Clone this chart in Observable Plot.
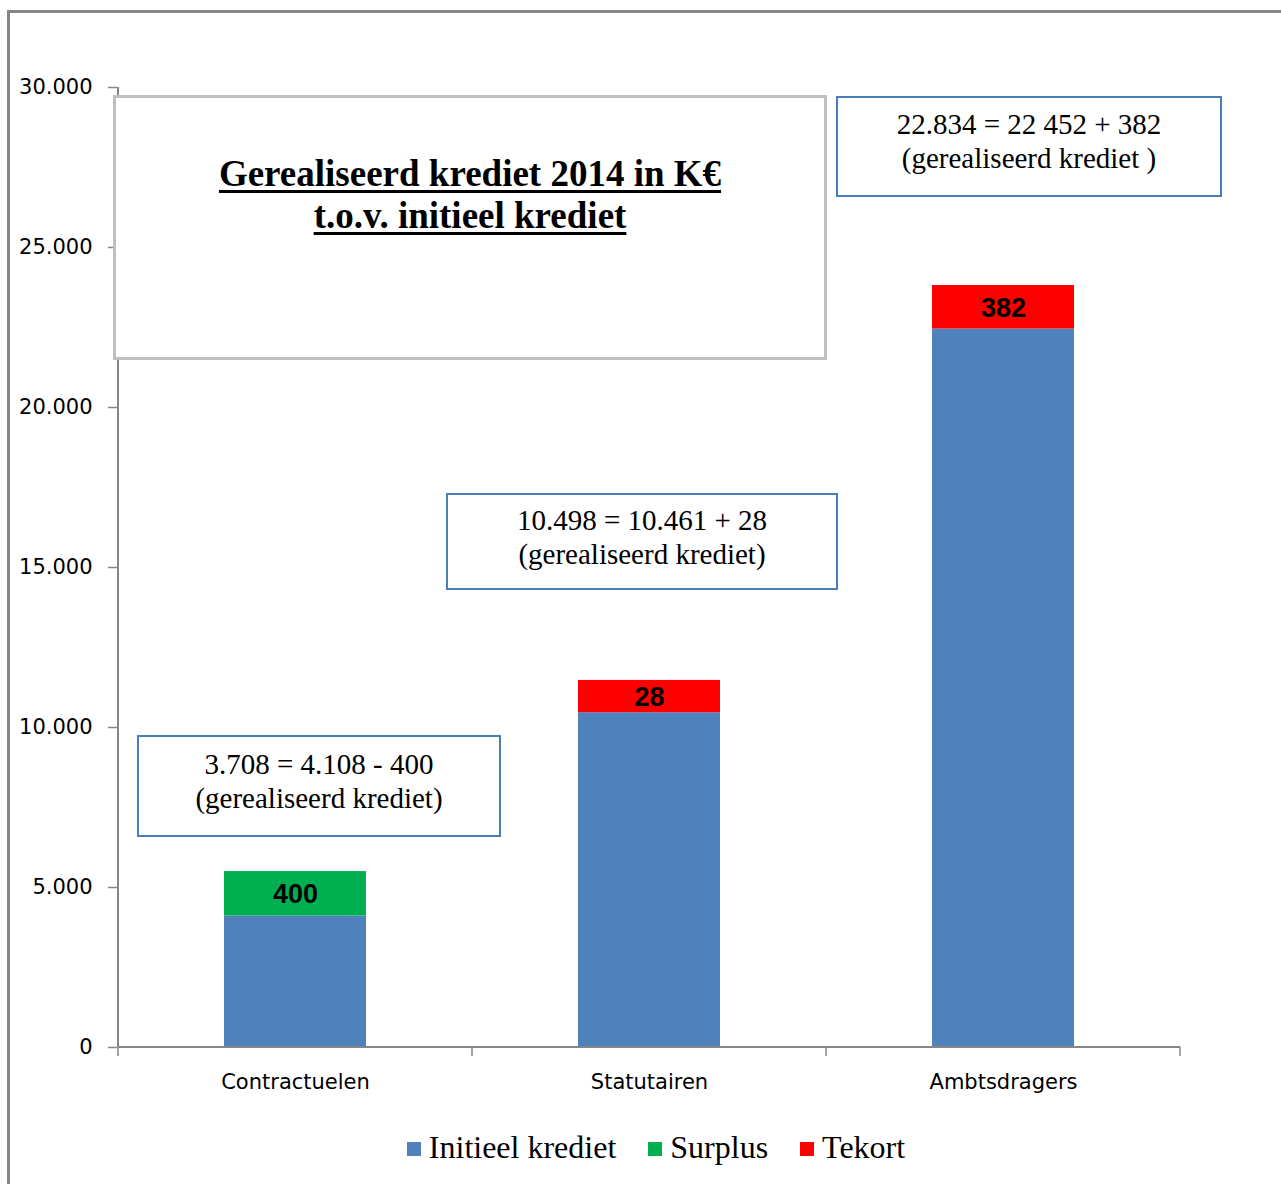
<!DOCTYPE html>
<html>
<head>
<meta charset="utf-8">
<script src="https://cdn.jsdelivr.net/npm/d3@7"></script>
<script src="https://cdn.jsdelivr.net/npm/@observablehq/plot@0.6"></script>
<style>
  html, body { margin: 0; padding: 0; background: #fff; }
  #wrap { position: relative; width: 1281px; height: 1184px; overflow: hidden; background: #fff; }
  #frame { position: absolute; left: 7px; top: 10px; right: -10px; bottom: -10px; border-left: 3px solid #868686; border-top: 3px solid #868686; }
  #chart { position: absolute; left: 0; top: 0; }
  .box { position: absolute; box-sizing: border-box; background: #fff; text-align: center; font-family: "Liberation Serif", "Times New Roman", serif; color: #000; }
  .note { border: 2px solid #4a7ebb; font-size: 29px; line-height: 34px; }
  #titlebox { border: 3px solid #bfbfbf; font-size: 37px; line-height: 42px; font-weight: bold; }
  #titlebox span { text-decoration: underline; text-decoration-thickness: 3px; text-underline-offset: 4px; }
  #legend { position: absolute; top: 1129px; left: 0; width: 1312px; text-align: center; font-family: "Liberation Serif", "Times New Roman", serif; font-size: 32px; color: #000; white-space: nowrap; }
  #legend .item { display: inline-block; margin: 0 16px; }
  #legend .sw { display: inline-block; width: 14px; height: 14px; margin-right: 8px; vertical-align: 2px; }
</style>
</head>
<body>
<div id="wrap">
  <div id="frame"></div>
  <div id="chart"></div>
  <div id="titlebox" class="box"></div>
  <div id="note1" class="box note"></div>
  <div id="note2" class="box note"></div>
  <div id="note3" class="box note"></div>
  <div id="legend"></div>
</div>
<script>
// ---- data ----
const categories = ["Contractuelen", "Statutairen", "Ambtsdragers"];
const initieelKrediet = [4108, 10461, 22452];
const surplus = [1390, 0, 0];          // segment height as drawn
const tekort = [0, 1010, 1360];        // segment height as drawn
const segmentLabels = ["400", "28", "382"];
const seriesNames = ["Initieel krediet", "Surplus", "Tekort"];
const seriesColors = ["#4f81bd", "#00b050", "#ff0000"];
const yTicks = [0, 5000, 10000, 15000, 20000, 25000, 30000];
const titleLines = ["Gerealiseerd krediet 2014 in K€", "t.o.v. initieel krediet"];
const noteTexts = [
  ["3.708 = 4.108 - 400", "(gerealiseerd krediet)"],
  ["10.498 = 10.461 + 28", "(gerealiseerd krediet)"],
  ["22.834 = 22 452 + 382", "(gerealiseerd krediet )"]
];

const AXIS = "#868686";

const rows = [];
categories.forEach((c, i) => {
  rows.push({cat: c, series: seriesNames[0], value: initieelKrediet[i], label: ""});
  rows.push({cat: c, series: seriesNames[1], value: surplus[i], label: surplus[i] ? segmentLabels[i] : ""});
  rows.push({cat: c, series: seriesNames[2], value: tekort[i], label: tekort[i] ? segmentLabels[i] : ""});
});

const nl = d3.formatLocale({decimal: ",", thousands: ".", grouping: [3], currency: ["", " €"]});
const fmt = nl.format(",");

function axisLines(index, scales, values, dims) {
  const x = scales.x, y = scales.y;
  const bw = typeof x.bandwidth === "function" ? x.bandwidth() : (x.bandwidth || 0);
  const centers = categories.map(c => x(c) + bw / 2);
  const step = centers[1] - centers[0];
  const y0 = y(0), yTop = y(30000);
  const left = centers[0] - step / 2, right = centers[centers.length - 1] + step / 2;
  const g = d3.create("svg:g").attr("stroke", AXIS).attr("stroke-width", 2).attr("fill", "none");
  g.append("line").attr("x1", left).attr("x2", left).attr("y1", yTop).attr("y2", y0);
  g.append("line").attr("x1", left).attr("x2", right).attr("y1", y0).attr("y2", y0);
  for (let k = 0; k <= categories.length; k++) {
    const bx = left + k * step;
    g.append("line").attr("x1", bx).attr("x2", bx).attr("y1", y0).attr("y2", y0 + 9).attr("stroke-width", 1.5);
  }
  return g.node();
}

const plot = Plot.plot({
  width: 1281,
  height: 1110,
  marginLeft: 117,
  marginRight: 100,
  marginTop: 87,
  marginBottom: 63,
  style: {fontFamily: "DejaVu Sans, sans-serif", background: "transparent", color: "#000"},
  x: {domain: categories, paddingInner: 0.6, paddingOuter: 0.3, label: null},
  y: {domain: [0, 30000], label: null},
  color: {domain: seriesNames, range: seriesColors},
  marks: [
    Plot.barY(rows, {x: "cat", y: "value", fill: "series"}),
    Plot.text(rows, Plot.stackY({x: "cat", y: "value", z: "series", text: "label",
      fontFamily: "Liberation Sans, Arial, sans-serif", fontWeight: "bold", fontSize: 27, fill: "#000", dy: 1})),
    Plot.axisY({ticks: yTicks, tickFormat: fmt, tickSize: 9, tickPadding: 16, fontSize: 21, stroke: AXIS, label: null}),
    Plot.axisX({tickSize: 0, tickPadding: 27, fontSize: 21, label: null}),
    axisLines
  ]
});
document.getElementById("chart").appendChild(plot);
d3.select(plot).selectAll("[aria-label='y-axis tick'] path").attr("stroke", AXIS).attr("stroke-width", 1.5);
d3.select(plot).selectAll("[aria-label='y-axis tick label'] text, [aria-label='x-axis tick label'] text").attr("fill", "#000");

// title box
const tb = document.getElementById("titlebox");
Object.assign(tb.style, {left: "113px", top: "95px", width: "714px", height: "265px", paddingTop: "55px"});
tb.innerHTML = titleLines.map(t => `<div><span>${t}</span></div>`).join("");

// annotation boxes
const noteGeom = [
  {left: 137, top: 735, width: 364, height: 102, pad: 10},
  {left: 446, top: 493, width: 392, height: 97, pad: 8},
  {left: 836, top: 96, width: 386, height: 101, pad: 9}
];
noteTexts.forEach((lines, i) => {
  const el = document.getElementById("note" + (i + 1));
  const g = noteGeom[i];
  Object.assign(el.style, {left: g.left + "px", top: g.top + "px", width: g.width + "px", height: g.height + "px", paddingTop: g.pad + "px"});
  el.innerHTML = lines.map(t => `<div>${t}</div>`).join("");
});

// legend
const lg = document.getElementById("legend");
lg.innerHTML = seriesNames.map((s, i) =>
  `<span class="item"><span class="sw" style="background:${seriesColors[i]}"></span>${s}</span>`).join("");
</script>
</body>
</html>
